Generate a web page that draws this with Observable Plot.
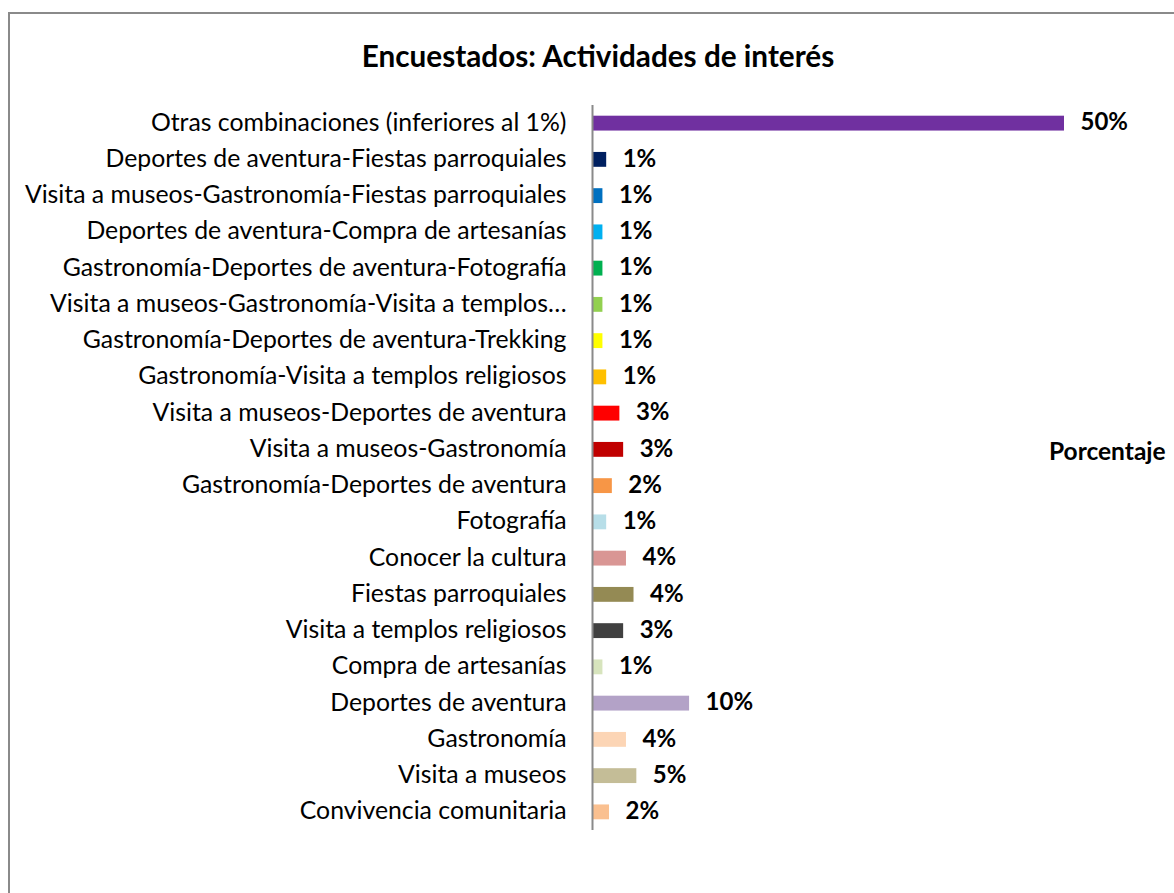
<!DOCTYPE html>
<html>
<head>
<meta charset="utf-8">
<script src="https://cdn.jsdelivr.net/npm/d3@7"></script>
<script src="https://cdn.jsdelivr.net/npm/@observablehq/plot@0.6"></script>
<style>
  html, body { margin: 0; padding: 0; background: #fff; overflow: hidden; }
  body { width: 1174px; height: 893px; position: relative; font-family: Lato, "Open Sans", sans-serif; }
  #frame { position: absolute; left: 8px; top: 12px; width: 1400px; height: 1200px; border: 2px solid #8a8a8a; box-sizing: border-box; }
  #title { position: absolute; left: 0; width: 1174px; top: 38px; text-align: center; font-weight: bold; font-size: 29.7px; line-height: 36px; color: #000; margin-left: 11px; }
  #legend { position: absolute; left: 1049px; top: 436px; font-weight: bold; font-size: 24.5px; line-height: 30px; white-space: nowrap; }
  #chart { position: absolute; left: 0; top: 80px; }
</style>
</head>
<body>
<div id="frame"></div>
<div id="title">Encuestados: Actividades de interés</div>
<div id="chart"></div>
<div id="legend">Porcentaje</div>
<script>
const categories = [
  "Otras combinaciones (inferiores al 1%)",
  "Deportes de aventura-Fiestas parroquiales",
  "Visita a museos-Gastronomía-Fiestas parroquiales",
  "Deportes de aventura-Compra de artesanías",
  "Gastronomía-Deportes de aventura-Fotografía",
  "Visita a museos-Gastronomía-Visita a templos…",
  "Gastronomía-Deportes de aventura-Trekking",
  "Gastronomía-Visita a templos religiosos",
  "Visita a museos-Deportes de aventura",
  "Visita a museos-Gastronomía",
  "Gastronomía-Deportes de aventura",
  "Fotografía",
  "Conocer la cultura",
  "Fiestas parroquiales",
  "Visita a templos religiosos",
  "Compra de artesanías",
  "Deportes de aventura",
  "Gastronomía",
  "Visita a museos",
  "Convivencia comunitaria"
];
const values = [50, 1.4, 1.0, 1.0, 1.0, 1.0, 1.0, 1.4, 2.8, 3.2, 2.0, 1.4, 3.5, 4.3, 3.2, 1.0, 10.2, 3.5, 4.6, 1.7];
const valueLabels = ["50%", "1%", "1%", "1%", "1%", "1%", "1%", "1%", "3%", "3%", "2%", "1%", "4%", "4%", "3%", "1%", "10%", "4%", "5%", "2%"];
const colors = [
  "#7030A0", "#002060", "#0070C0", "#00B0F0", "#00B050", "#92D050", "#FFFF00", "#FFC000",
  "#FF0000", "#C00000", "#F79646", "#B7DEE8", "#D99694", "#948A54", "#404040", "#D7E4BD",
  "#B3A2C7", "#FCD5B5", "#C4BD97", "#FAC090"
];

const data = categories.map((c, i) => ({ cat: c, value: values[i], label: valueLabels[i], color: colors[i] }));
const font = "Lato, 'Open Sans', sans-serif";

const chart = Plot.plot({
  width: 1174,
  height: 780,
  marginLeft: 593,
  marginRight: 110,
  marginTop: 25,
  marginBottom: 30,
  style: { fontFamily: font, fontSize: "24.8px", color: "#000", background: "transparent" },
  x: { domain: [0, 50], axis: null },
  y: { domain: categories, paddingInner: 0.59, paddingOuter: 0.295, round: false, label: null },
  marks: [
    Plot.barX(data, { y: "cat", x: "value", fill: "color" }),
    Plot.ruleX([0], { stroke: "#8a8a8a", strokeWidth: 2, dx: -1 }),
    Plot.axisY({ tickSize: 0, tickPadding: 27, fontSize: 24.8, label: null, dy: -1 }),
    Plot.text(data, { y: "cat", x: "value", text: "label", dx: 16, dy: -1, textAnchor: "start", fontWeight: "bold", fontSize: 24, fill: "#000" })
  ]
});
document.getElementById("chart").appendChild(chart);
</script>
</body>
</html>
